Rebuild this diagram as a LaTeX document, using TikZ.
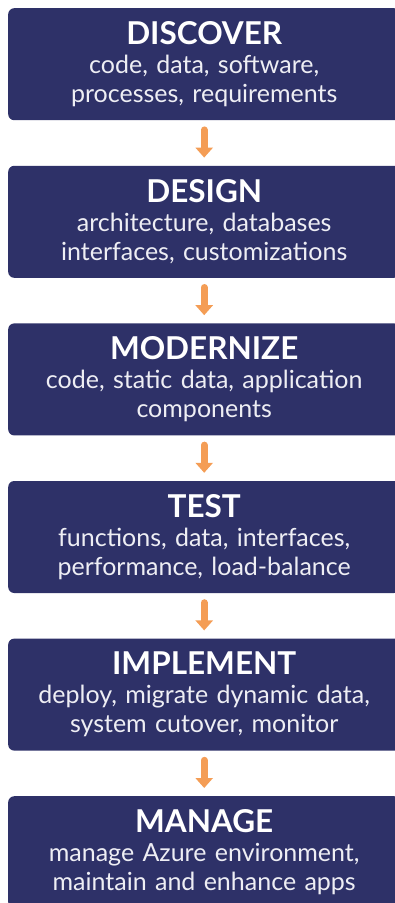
\documentclass[tikz,border=0pt]{standalone}
\usepackage{fontspec}
\setmainfont{Lato}
\usetikzlibrary{arrows.meta}
\definecolor{navy}{HTML}{2E3168}
\definecolor{arrorange}{HTML}{F49D55}
\definecolor{bodytxt}{HTML}{EEEEF4}
\tikzset{
  stepbox/.style={draw=none, fill=navy, rounded corners=6pt, anchor=north west,
    minimum width=392pt, minimum height=112pt, inner sep=0pt, align=center, text width=392pt,
    font=\fontsize{25}{29}\selectfont, text=bodytxt},
  flowarrow/.style={draw=arrorange, line width=7pt, line cap=round,
    -{Triangle[width=17pt,length=10pt]}, shorten <=9.5pt, shorten >=8pt}
}
\newcommand{\boxtxt}[3]{{\fontsize{31.5}{29}\selectfont\bfseries\color{white}#1}\\#2\\#3}
\begin{document}
\begin{tikzpicture}[x=1pt,y=1pt]
\useasboundingbox (0,0) rectangle (395,-903);
\begin{scope}
\clip (0,0) rectangle (395,-903);
\node[stepbox] (b1) at (8,-8) {\boxtxt{DISCOVER}{code, data, software,}{processes, requirements}};
\node[stepbox] (b2) at (8,-165.6) {\boxtxt{DESIGN}{architecture, databases}{interfaces, customizations}};
\node[stepbox] (b3) at (8,-323.2) {\boxtxt{MODERNIZE}{code, static data, application}{components}};
\node[stepbox] (b4) at (8,-480.8) {\boxtxt{TEST}{functions, data, interfaces,}{performance, load-balance}};
\node[stepbox] (b5) at (8,-638.4) {\boxtxt{IMPLEMENT}{deploy, migrate dynamic data,}{system cutover, monitor}};
\node[stepbox] (b6) at (8,-796) {\boxtxt{MANAGE}{manage Azure environment,}{maintain and enhance apps}};
\end{scope}
\draw[flowarrow] (b1.south) -- (b2.north);
\draw[flowarrow] (b2.south) -- (b3.north);
\draw[flowarrow] (b3.south) -- (b4.north);
\draw[flowarrow] (b4.south) -- (b5.north);
\draw[flowarrow] (b5.south) -- (b6.north);
\end{tikzpicture}
\end{document}
